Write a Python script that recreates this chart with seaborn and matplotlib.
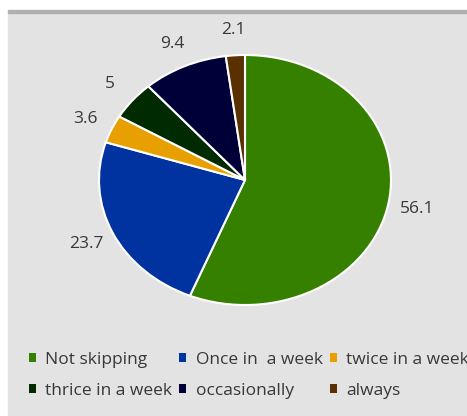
import numpy as np
import seaborn as sns
import matplotlib.pyplot as plt
from matplotlib.patches import Patch, Rectangle

# data
categories = ["Not skipping", "Once in  a week", "twice in a week",
              "thrice in a week", "occasionally", "always"]
values = [56.1, 23.7, 3.6, 5, 9.4, 2.1]
colors = ["#368000", "#0033a0", "#e8a000", "#002a00", "#000038", "#5a3000"]

sns.set_theme(style="white")
plt.rcParams['font.family'] = ['Open Sans', 'DejaVu Sans']
palette = sns.color_palette(colors)

fig = plt.figure(figsize=(4.67, 4.16), dpi=100, facecolor="white")

# grey chart area with a darker strip on top, like the screenshot
fig.patches.append(Rectangle((8 / 467, 0), 1, (416 - 13) / 416,
                             transform=fig.transFigure, color="#e3e3e3", zorder=-10))
fig.patches.append(Rectangle((8 / 467, (416 - 13) / 416), 1, 3 / 416,
                             transform=fig.transFigure, color="#b0b0b0", zorder=-10))

ax = fig.add_axes([0, 0, 1, 1])
ax.set_facecolor("none")

wedges, _ = ax.pie(values, colors=palette, startangle=90, counterclock=False,
                   wedgeprops=dict(edgecolor="white", linewidth=1.5))

# labels outside each slice
for w, v in zip(wedges, values):
    ang = np.deg2rad((w.theta1 + w.theta2) / 2)
    ax.text(1.2 * np.cos(ang), 1.2 * np.sin(ang), f"{v:g}",
            ha="center", va="center", fontsize=12.5, color="#383838")

# the original picture is stretched horizontally, so no equal aspect
ax.set_aspect("auto")
ax.set_xlim(-245 / 146, (467 - 245) / 146)
ax.set_ylim(-(416 - 180) / 125, 180 / 125)
ax.axis("off")

# legend, 3 columns filled column by column
order = [0, 3, 1, 4, 2, 5]
handles = [Patch(facecolor=palette[i], edgecolor="none") for i in order]
labels = [categories[i] for i in order]
fig.legend(handles, labels, ncol=3, loc="upper left",
           bbox_to_anchor=(29 / 467, 1 - 352 / 416), frameon=False,
           fontsize=12.5, labelcolor="#383838", borderpad=0, borderaxespad=0,
           handlelength=0.4, handleheight=0.4, handletextpad=0.55,
           columnspacing=0.4, labelspacing=0.85)

fig.savefig("out.png", dpi=100)
